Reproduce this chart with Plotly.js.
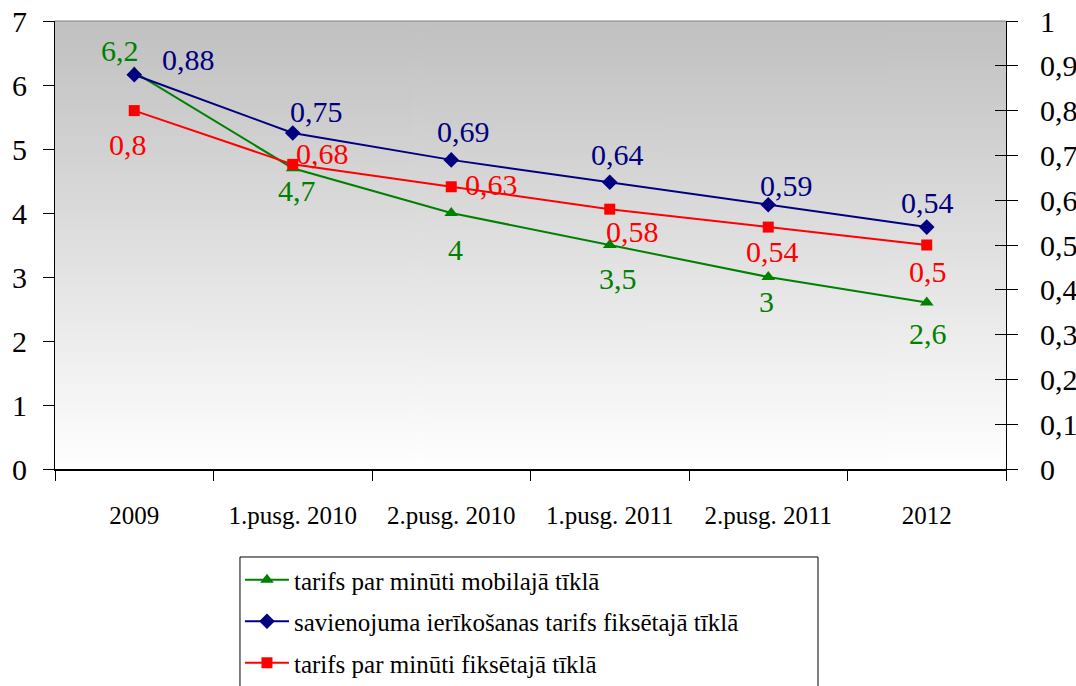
<!DOCTYPE html>
<html>
<head>
<meta charset="utf-8">
<script src="https://cdn.plot.ly/plotly-3.0.1.min.js"></script>
<style>html,body{margin:0;padding:0;background:#fff;}#chart{width:1076px;height:686px;}</style>
</head>
<body>
<div id="chart"></div>
<script>
// ---- data ----
const categories = ["2009", "1.pusg. 2010", "2.pusg. 2010", "1.pusg. 2011", "2.pusg. 2011", "2012"];
const mobileMinute = [6.2, 4.7, 4, 3.5, 3, 2.6];              // left axis
const fixedConnection = [0.88, 0.75, 0.69, 0.64, 0.59, 0.54]; // right axis
const fixedMinute = [0.8, 0.68, 0.63, 0.58, 0.54, 0.5];       // right axis
const seriesNames = [
  "tarifs par minūti mobilajā tīklā",
  "savienojuma ierīkošanas tarifs fiksētajā tīklā",
  "tarifs par minūti fiksētajā tīklā"
];
const leftTicks = [0, 1, 2, 3, 4, 5, 6, 7];
const rightTicks = [0, 0.1, 0.2, 0.3, 0.4, 0.5, 0.6, 0.7, 0.8, 0.9, 1];

// ---- label offsets (pixels: dx, dy downwards) ----
const offGreen = [[-14,-22],[4,22],[4,36],[8,33],[-2,24],[1,31]];
const offBlue  = [[54,-15],[24,-22],[12,-28],[8,-28],[18,-19],[1,-25]];
const offRed   = [[-6,34],[30,-11],[40,-2],[23,22],[4,24],[1,26]];

(function () {
  const FONT = "Liberation Serif";
  const GREEN = "#008000", BLUE = "#000080", RED = "#FF0000";
  const fmt = v => String(v).replace(".", ",");

  // grey-to-white vertical gradient image for the plot background
  const cv = document.createElement("canvas");
  cv.width = 4; cv.height = 256;
  const cx = cv.getContext("2d");
  const grad = cx.createLinearGradient(0, 0, 0, 256);
  grad.addColorStop(0, "#C0C0C0");
  grad.addColorStop(1, "#FFFFFF");
  cx.fillStyle = grad; cx.fillRect(0, 0, 4, 256);
  const bgURL = cv.toDataURL("image/png");

  const traces = [
    {x: categories, y: mobileMinute, name: seriesNames[0], type: "scatter", mode: "lines+markers",
     yaxis: "y", legendgroup: "a",
     line: {color: GREEN, width: 2}, marker: {symbol: "triangle-up", size: 12, color: GREEN}},
    {x: categories, y: fixedConnection, name: seriesNames[1], type: "scatter", mode: "lines+markers",
     yaxis: "y2", legendgroup: "b",
     line: {color: BLUE, width: 2}, marker: {symbol: "diamond", size: 12, color: BLUE}},
    {x: categories, y: fixedMinute, name: seriesNames[2], type: "scatter", mode: "lines+markers",
     yaxis: "y2", legendgroup: "c",
     line: {color: RED, width: 2}, marker: {symbol: "square", size: 11, color: RED}},
    // invisible helper so the tick-only overlay axis y3 is drawn
    {x: [categories[0]], y: [0], yaxis: "y3", type: "scatter", mode: "markers",
     marker: {opacity: 0}, showlegend: false, hoverinfo: "skip"}
  ];

  const annotations = [];
  function addLabels(vals, yref, color, offs) {
    vals.forEach((v, i) => {
      annotations.push({x: i, y: v, xref: "x", yref: yref, text: fmt(v), showarrow: false,
        xshift: offs[i][0], yshift: -offs[i][1], font: {family: FONT, size: 30, color: color}});
    });
  }
  addLabels(mobileMinute, "y", GREEN, offGreen);
  addLabels(fixedConnection, "y2", BLUE, offBlue);
  addLabels(fixedMinute, "y2", RED, offRed);

  const layout = {
    width: 1076, height: 686,
    margin: {l: 55, r: 70, t: 21, b: 217},
    paper_bgcolor: "#FFFFFF", plot_bgcolor: "#FFFFFF",
    font: {family: FONT, color: "#000"},
    showlegend: true,
    legend: {xref: "paper", yref: "container", x: 0.1945, y: 0.188, xanchor: "left", yanchor: "top",
      borderwidth: 0, bgcolor: "rgba(0,0,0,0)", itemwidth: 44,
      font: {family: FONT, size: 25, color: "#000"}, tracegroupgap: 6},
    xaxis: {type: "category", range: [-0.5, 5.5], tickson: "boundaries", ticks: "outside", ticklen: 10,
      tickcolor: "#000", showline: true, linecolor: "#000", linewidth: 2, showgrid: false, zeroline: false,
      tickfont: {family: FONT, size: 25, color: "#000"}, ticklabelstandoff: 23},
    yaxis: {range: [0, 7], tickvals: leftTicks, ticktext: leftTicks.map(fmt), ticks: "outside", ticklen: 11,
      tickcolor: "#000", showline: true, linecolor: "#000", linewidth: 1, showgrid: false, zeroline: false,
      tickfont: {family: FONT, size: 30, color: "#000"}, ticklabelstandoff: 10},
    yaxis2: {range: [0, 1], overlaying: "y", side: "right", tickvals: rightTicks, ticktext: rightTicks.map(fmt),
      ticks: "outside", ticklen: 11, tickcolor: "#000", showline: true, linecolor: "#000", linewidth: 1,
      showgrid: false, zeroline: false, tickfont: {family: FONT, size: 30, color: "#000"}, ticklabelstandoff: 16},
    yaxis3: {range: [0, 1], overlaying: "y", side: "right", tickvals: rightTicks, ticks: "inside", ticklen: 11,
      tickcolor: "#000", showticklabels: false, showline: false, showgrid: false, zeroline: false},
    images: [{source: bgURL, xref: "paper", yref: "paper", x: 0, y: 1, sizex: 1, sizey: 1,
      sizing: "stretch", xanchor: "left", yanchor: "top", layer: "below"}],
    shapes: [
      {type: "line", xref: "paper", yref: "paper", x0: 0, x1: 1, y0: 1, y1: 1,
       line: {color: "#808080", width: 1}},
      // legend frame (runs past the bottom edge, as in the original)
      {type: "rect", xref: "paper", yref: "paper", x0: 0.1945, x1: 0.8023, y0: -0.1964, y1: -0.6,
       line: {color: "#000", width: 1}, fillcolor: "rgba(0,0,0,0)"}
    ],
    annotations: annotations
  };

  Plotly.newPlot("chart", traces, layout, {displayModeBar: false, staticPlot: true});
})();
</script>
</body>
</html>
